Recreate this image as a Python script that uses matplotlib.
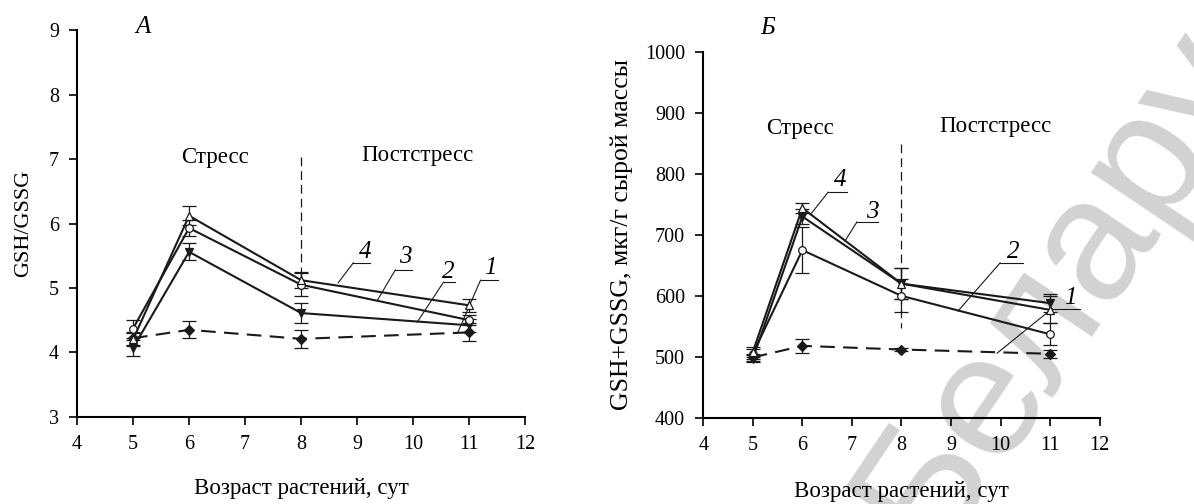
import numpy as np
import matplotlib
matplotlib.use("Agg")
import matplotlib.pyplot as plt

plt.rcParams['font.family'] = ['Liberation Serif', 'DejaVu Serif']
plt.rcParams['font.size'] = 14.5

# --> Data
days = [5, 6, 8, 11]

# panel A : GSH/GSSG
a_1 = [4.22, 4.35, 4.21, 4.31]
a_1_err = [0.10, 0.13, 0.14, 0.14]
a_2 = [4.07, 5.56, 4.61, 4.42]
a_2_err = [0.12, 0.13, 0.15, 0.10]
a_3 = [4.37, 5.93, 5.05, 4.50]
a_3_err = [0.14, 0.13, 0.18, 0.08]
a_4 = [4.20, 6.12, 5.12, 4.73]
a_4_err = [0.10, 0.15, 0.12, 0.10]

# panel B : GSH+GSSG
b_1 = [499, 518, 512, 505]
b_1_err = [6, 12, 3, 7]
b_2 = [505, 675, 600, 537]
b_2_err = [8, 38, 27, 18]
b_3 = [497, 730, 620, 588]
b_3_err = [6, 12, 25, 15]
b_4 = [508, 744, 620, 577]
b_4_err = [8, 8, 25, 22]

xlabel = 'Возраст растений, сут'
a_ylabel = 'GSH/GSSG'
b_ylabel = 'GSH+GSSG, мкг/г сырой массы'

fig = plt.figure(figsize=(11.94, 5.04), dpi=100)
ax_a = fig.add_axes([0.0645, 0.173, 0.3755, 0.767])
ax_b = fig.add_axes([0.589, 0.171, 0.332, 0.726])

# --> Watermark (behind the axes)
fig.text(0.78, -0.10, 'Беларусь', fontsize=125, color='#d2d2d2', family='Liberation Sans',
         rotation=56, rotation_mode='anchor', ha='left', va='baseline', zorder=-1)


def draw_series(ax, y, err, marker, mfc, ls='-'):
    ax.errorbar(days, y, yerr=err, color='#1a1a1a', lw=1.5, ls=ls, dashes=(7, 4) if ls == '--' else (None, None),
                marker=marker, ms=5.5, mfc=mfc, mec='#1a1a1a', mew=0.9,
                ecolor='#1a1a1a', elinewidth=0.9, capsize=5, capthick=0.9, zorder=3)


def label_line(ax, num, text_xy, ul_x, ul_y, tip_xy):
    # --> italic series number with underline and leader line
    ax.text(text_xy[0], text_xy[1], num, style='italic', ha='center', va='center', fontsize=18)
    ax.plot(ul_x, [ul_y, ul_y], color='#1a1a1a', lw=0.8)
    ax.plot([ul_x[0], tip_xy[0]], [ul_y, tip_xy[1]], color='#1a1a1a', lw=0.8)


def style_axes(ax):
    ax.set_facecolor('none')
    ax.spines['top'].set_visible(False)
    ax.spines['right'].set_visible(False)
    ax.spines['left'].set_linewidth(1.5)
    ax.spines['bottom'].set_linewidth(1.5)
    ax.tick_params(direction='out', length=6, width=1.2, pad=7)
    ax.set_xlim(4, 12)
    ax.set_xticks(range(4, 13))


# --> Panel A
draw_series(ax_a, a_1, a_1_err, 'D', '#1a1a1a', ls='--')
draw_series(ax_a, a_2, a_2_err, 'v', '#1a1a1a')
draw_series(ax_a, a_3, a_3_err, 'o', 'white')
draw_series(ax_a, a_4, a_4_err, '^', 'white')
style_axes(ax_a)
ax_a.set_ylim(3, 9)
ax_a.set_yticks(range(3, 10))
ax_a.set_xlabel(xlabel, fontsize=16.5)
ax_a.xaxis.set_label_coords(0.5, -0.158)
ax_a.set_ylabel(a_ylabel, fontsize=16)
ax_a.yaxis.set_label_coords(-0.098, 0.5)
ax_a.plot([8, 8], [7.03, 5.15], color='#1a1a1a', lw=0.9, dashes=(7, 4))
ax_a.text(6.46, 7.03, 'Стресс', ha='center', va='center', fontsize=16.5)
ax_a.text(10.07, 7.06, 'Постстресс', ha='center', va='center', fontsize=16.5)
ax_a.text(5.18, 9.05, 'А', style='italic', ha='center', va='center', fontsize=18)
label_line(ax_a, '4', (9.14, 5.56), [8.93, 9.23], 5.39, (8.66, 5.08))
label_line(ax_a, '3', (9.86, 5.48), [9.68, 9.98], 5.28, (9.36, 4.81))
label_line(ax_a, '2', (10.63, 5.25), [10.54, 10.75], 5.09, (10.07, 4.47))
label_line(ax_a, '1', (11.38, 5.31), [11.2, 11.52], 5.12, (10.79, 4.30))

# --> Panel B
draw_series(ax_b, b_1, b_1_err, 'D', '#1a1a1a', ls='--')
draw_series(ax_b, b_2, b_2_err, 'o', 'white')
draw_series(ax_b, b_3, b_3_err, 'v', '#1a1a1a')
draw_series(ax_b, b_4, b_4_err, '^', 'white')
style_axes(ax_b)
ax_b.set_ylim(400, 1000)
ax_b.set_yticks(range(400, 1001, 100))
ax_b.set_xlabel(xlabel, fontsize=16.5)
ax_b.xaxis.set_label_coords(0.5, -0.172)
ax_b.set_ylabel(b_ylabel, fontsize=18.5)
ax_b.yaxis.set_label_coords(-0.176, 0.5)
ax_b.plot([8, 8], [849, 548], color='#1a1a1a', lw=0.9, dashes=(7, 4))
ax_b.text(5.96, 875, 'Стресс', ha='center', va='center', fontsize=16.5)
ax_b.text(9.89, 877, 'Постстресс', ha='center', va='center', fontsize=16.5)
ax_b.text(5.29, 1040, 'Б', style='italic', ha='center', va='center', fontsize=18, clip_on=False)
label_line(ax_b, '4', (6.76, 790), [6.52, 6.91], 770, (6.16, 733))
label_line(ax_b, '3', (7.41, 738), [7.10, 7.53], 721, (6.86, 690))
label_line(ax_b, '2', (10.25, 672), [9.99, 10.45], 654, (9.14, 575))
label_line(ax_b, '1', (11.4, 597), [11.04, 11.6], 579, (9.93, 506))

fig.savefig('out.png', dpi=100)
